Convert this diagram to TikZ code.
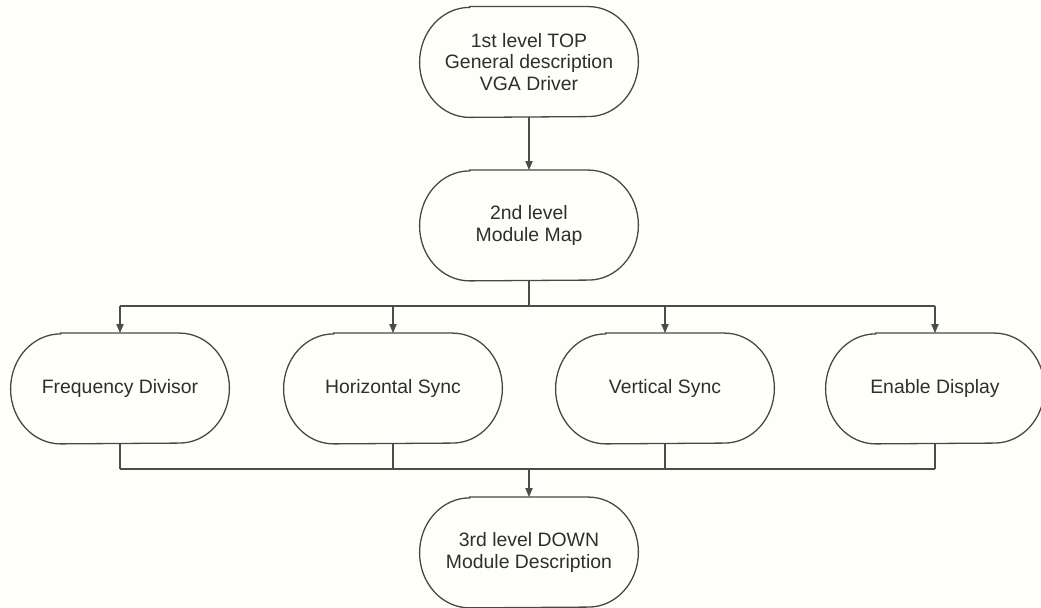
\documentclass[tikz,border=0pt]{standalone}
\usepackage{fontspec}
\setmainfont{Liberation Sans}
\usetikzlibrary{arrows.meta}

\begin{document}
\begin{tikzpicture}[x=0.5pt, y=0.5pt, >={Triangle[length=4.5pt,width=3.6pt]},
    term/.style={minimum width=109pt, minimum height=55pt, inner sep=0pt,
      align=center, text=black!82, font=\fontsize{9.7}{10.6}\selectfont},
    outline/.style={draw=black!72, line width=0.65pt},
    link/.style={draw=black!70, line width=0.55pt}]
  \useasboundingbox[fill=white!98!yellow] (0,0) rectangle (1041,608);
  \def\rx{25pt}
  \def\ry{27.5pt}

  % levels
  \node[term] (top) at (529,546) {1st level TOP\\General description\\VGA Driver};
  \node[term] (map) at (529,382.5) {2nd level\\Module Map};
  \node[term] (freq) at (120,219.5) {Frequency Divisor};
  \node[term] (hsync) at (393,219.5) {Horizontal Sync};
  \node[term] (vsync) at (665,219.5) {Vertical Sync};
  \node[term] (enable) at (935,219.5) {Enable Display};
  \node[term] (down) at (529,55.5) {3rd level DOWN\\Module Description};

  % terminator outlines
  \foreach \n in {top,map,freq,hsync,vsync,enable,down}
    \draw[outline] ([xshift=\rx]\n.north west) -- ([xshift=-\rx]\n.north east)
      arc[start angle=90, end angle=-90, x radius=\rx, y radius=\ry]
      -- ([xshift=\rx]\n.south west)
      arc[start angle=270, end angle=90, x radius=\rx, y radius=\ry] -- cycle;

  % connectors
  \coordinate (split) at (529,302);
  \coordinate (merge) at (529,139);
  \draw[link,->] (top) -- (map);
  \draw[link] (map.south) -- (split);
  \draw[link] (split -| freq) -- (split -| enable);
  \foreach \n in {freq,hsync,vsync,enable}
    \draw[link,->] (split -| \n) -- (\n.north);
  \foreach \n in {freq,hsync,vsync,enable}
    \draw[link] (\n.south) -- (merge -| \n);
  \draw[link] (merge -| freq) -- (merge -| enable);
  \draw[link,->] (merge) -- (down.north);
\end{tikzpicture}
\end{document}
